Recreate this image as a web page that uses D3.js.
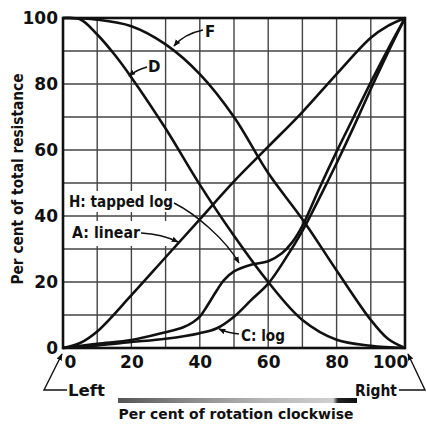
<!DOCTYPE html>
<html><head><meta charset="utf-8">
<script src="https://cdn.jsdelivr.net/npm/d3@7"></script>
<style>body{margin:0;background:#fff}svg{display:block}text{font-family:"DejaVu Sans",sans-serif;}</style>
</head><body><svg id="c" width="426" height="424"></svg>
<script>
// ---- data ----
const tickValues = [0, 20, 40, 60, 80, 100];
const gridValues = [0, 10, 20, 30, 40, 50, 60, 70, 80, 90, 100];
const aX = [0, 5, 10, 20, 30, 40, 50, 60, 70, 80, 90, 95, 100];
const aY = [0, 1.5, 5, 16, 27.5, 39, 50.5, 61, 71.5, 83, 94, 97.6, 100];
const cX = [0, 10, 20, 30, 40, 45, 50, 55, 60, 65, 70, 75, 80, 85, 90, 95, 100];
const cY = [0, 0.8, 1.8, 2.8, 4.5, 6, 9.5, 14.5, 19.5, 27, 35.5, 45.5, 56, 67, 78.5, 89.5, 100];
const dX = [0, 5, 10, 15, 20, 30, 40, 50, 60, 70, 80, 90, 100];
const dY = [100, 99.6, 95, 89, 82, 66.5, 49.5, 34, 20, 8.5, 2.5, 0.7, 0];
const fX = [0, 10, 20, 30, 40, 50, 60, 70, 80, 90, 95, 100];
const fY = [100, 99.5, 97.5, 92, 83, 70, 53, 39, 23.5, 8.5, 2.8, 0];
const hX = [0, 10, 20, 30, 35, 38, 40, 42, 45, 47, 50, 55, 60, 64, 67, 70, 75, 80, 85, 90, 95, 100];
const hY = [0, 1.3, 2.4, 4.8, 6.2, 7.8, 9.5, 12.5, 17.5, 20.5, 23.2, 25.2, 26.3, 28.7, 32, 37, 48.5, 59.5, 70, 80.5, 90.5, 100];
const curveLabels = ["F", "D", "H: tapped log", "A: linear", "C: log"];
const xTitle = "Per cent of rotation clockwise";
const yTitle = "Per cent of total resistance";

// ---- drawing ----
const svg = d3.select("#c");
const x = d3.scaleLinear().domain([0, 100]).range([63, 405]);
const y = d3.scaleLinear().domain([0, 100]).range([348, 18]);

const defs = svg.append("defs");
defs.append("marker").attr("id", "arr").attr("viewBox", "0 0 10 10")
  .attr("refX", 9).attr("refY", 5).attr("markerWidth", 7).attr("markerHeight", 7)
  .attr("markerUnits", "userSpaceOnUse").attr("orient", "auto")
  .append("path").attr("d", "M0,1 L10,5 L0,9 Z").attr("fill", "#111");
const grad = defs.append("linearGradient").attr("id", "bar");
[[0, "#555"], [0.3, "#8a8a8a"], [0.6, "#b5b5b5"], [0.9, "#cfcfcf"], [0.92, "#222"], [1, "#111"]]
  .forEach(([o, c]) => grad.append("stop").attr("offset", o).attr("stop-color", c));

// grid
const grid = svg.append("g").attr("stroke", "#444").attr("stroke-width", 1.4);
grid.selectAll(".v").data(gridValues).join("line")
  .attr("x1", d => x(d)).attr("x2", d => x(d)).attr("y1", y(0)).attr("y2", y(100));
grid.selectAll(".h").data(gridValues).join("line").attr("class", "h")
  .attr("y1", d => y(d)).attr("y2", d => y(d)).attr("x1", x(0)).attr("x2", x(100));

// label backgrounds
svg.append("rect").attr("x", 64.5).attr("y", 191).attr("width", 118).attr("height", 21).attr("fill", "#fff");
svg.append("rect").attr("x", 64.5).attr("y", 221).attr("width", 106).attr("height", 25).attr("fill", "#fff");

// border
svg.append("rect").attr("x", x(0)).attr("y", y(100)).attr("width", x(100) - x(0)).attr("height", y(0) - y(100))
  .attr("fill", "none").attr("stroke", "#111").attr("stroke-width", 2.6);

// curves
const line = d3.line().x(d => x(d[0])).y(d => y(d[1])).curve(d3.curveCatmullRom.alpha(0.5));
const series = [[aX, aY], [cX, cY], [dX, dY], [fX, fY], [hX, hY]];
svg.append("g").selectAll("path").data(series).join("path")
  .attr("d", s => line(s[0].map((v, i) => [v, s[1][i]])))
  .attr("fill", "none").attr("stroke", "#111").attr("stroke-width", 2.6).attr("stroke-linejoin", "round");

// axes
const gx = svg.append("g").attr("transform", `translate(0,${y(0)})`)
  .call(d3.axisBottom(x).tickValues(tickValues).tickSize(0).tickPadding(8));
gx.select(".domain").remove();
gx.selectAll("text").attr("font-size", 17).attr("font-weight", "bold").attr("fill", "#111")
  .attr("font-family", "DejaVu Sans, sans-serif")
  .attr("dx", d => d === 0 ? 7 : d === 100 ? -15 : 0);
const gy = svg.append("g").attr("transform", `translate(${x(0)},0)`)
  .call(d3.axisLeft(y).tickValues(tickValues).tickSize(0).tickPadding(5));
gy.select(".domain").remove();
gy.selectAll("text").attr("font-size", 17).attr("font-weight", "bold").attr("fill", "#111")
  .attr("font-family", "DejaVu Sans, sans-serif");

// curve labels
const lab = (t, xx, yy, len) => {
  const e = svg.append("text").attr("x", xx).attr("y", yy).attr("dy", "0.35em")
    .attr("font-size", 15).attr("font-weight", "bold").attr("fill", "#111").text(t);
  if (len) e.attr("textLength", len).attr("lengthAdjust", "spacingAndGlyphs");
};
lab(curveLabels[0], 205, 32);
lab(curveLabels[1], 148, 67);
lab(curveLabels[2], 69, 202, 104);
lab(curveLabels[3], 72, 233, 68);
lab(curveLabels[4], 241, 336, 44);

// leaders
const leaders = [
  "M203,30 Q184,34 174,46",
  "M147,67 Q136,70 129,76",
  "M174,203 C196,214 226,240 239,263",
  "M141,233 Q162,234 178,242",
  "M239,334 Q228,333 219,329",
  "M67,390 H44 L62,354",
  "M399,390 H425 L408,354"
];
svg.append("g").selectAll("path").data(leaders).join("path").attr("d", d => d)
  .attr("fill", "none").attr("stroke", "#111").attr("stroke-width", 1.4).attr("marker-end", "url(#arr)");

// Left / Right
svg.append("text").attr("x", 68).attr("y", 390).attr("dy", "0.35em").attr("font-size", 16)
  .attr("font-weight", "bold").attr("fill", "#111").attr("textLength", 37).attr("lengthAdjust", "spacingAndGlyphs").text("Left");
svg.append("text").attr("x", 355).attr("y", 390).attr("dy", "0.35em").attr("font-size", 16)
  .attr("font-weight", "bold").attr("fill", "#111").attr("textLength", 42).attr("lengthAdjust", "spacingAndGlyphs").text("Right");

// gray bar
svg.append("rect").attr("x", 118).attr("y", 398).attr("width", 239).attr("height", 5).attr("fill", "url(#bar)");

// titles
svg.append("text").attr("x", 236).attr("y", 419).attr("text-anchor", "middle").attr("font-size", 14)
  .attr("font-weight", "bold").attr("fill", "#111").attr("textLength", 235).attr("lengthAdjust", "spacingAndGlyphs").text(xTitle);
svg.append("text").attr("transform", "translate(17.5,179) rotate(-90)").attr("text-anchor", "middle")
  .attr("dy", "0.35em").attr("font-size", 15).attr("font-weight", "bold").attr("fill", "#111")
  .attr("textLength", 211).attr("lengthAdjust", "spacingAndGlyphs").text(yTitle);
</script></body></html>
